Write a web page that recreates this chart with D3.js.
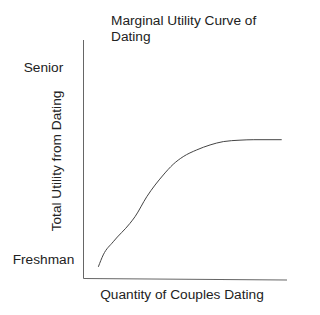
<!DOCTYPE html>
<html>
<head>
<meta charset="utf-8">
<script src="https://cdn.jsdelivr.net/npm/d3@7"></script>
<style>
  body { margin: 0; background: #fff; }
  text { font-family: "Liberation Sans", Arial, sans-serif; fill: #222; }
</style>
</head>
<body>
<svg id="chart" width="320" height="315"></svg>
<script>
// quantity of couples dating (0-10) vs total utility (0-10)
const quantity = [0.73, 0.97, 1.46, 2.28, 2.53, 3.11, 3.92, 4.41, 4.90, 5.56, 6.22, 6.87, 7.69, 8.37, 9.74]
const utility  = [0.49, 0.99, 1.54, 2.31, 2.59, 3.43, 4.34, 4.79, 5.11, 5.39, 5.60, 5.74, 5.80, 5.82, 5.82]
const yLabels = ['Freshman', 'Senior']
const yLabelValues = [0.82, 8.85]

const titleLines = ['Marginal Utility Curve of', 'Dating']
const xTitle = 'Quantity of Couples Dating'
const yTitle = 'Total Utility from Dating'

const svg = d3.select('#chart')
const x = d3.scaleLinear().domain([0, 10]).range([83.5, 287])
const y = d3.scaleLinear().domain([0, 10]).range([278.5, 40])

// axes drawn as plain lines, no ticks
svg.append('line')
    .attr('x1', x(0)).attr('x2', x(0))
    .attr('y1', y(0)).attr('y2', y(10))
    .style('stroke', '#666').style('stroke-width', 1)
svg.append('line')
    .attr('x1', x(0)).attr('x2', x(10))
    .attr('y1', y(0)).attr('y2', y(0) + 1.5)
    .style('stroke', '#666').style('stroke-width', 1.2)

const line = d3.line()
    .x(d => x(d[0]))
    .y(d => y(d[1]))
    .curve(d3.curveMonotoneX)

svg.append('path')
    .datum(d3.zip(quantity, utility))
    .attr('d', line)
    .style('fill', 'none')
    .style('stroke', '#444')
    .style('stroke-width', 1)

// category labels on the y axis
svg.selectAll('.ylab')
    .data(yLabels)
    .enter().append('text')
    .attr('class', 'ylab')
    .attr('x', 43.5)
    .attr('y', (d, i) => y(yLabelValues[i]))
    .attr('dy', '0.35em')
    .attr('text-anchor', 'middle')
    .style('font-size', '13.7px')
    .text(d => d)

svg.append('g')
    .selectAll('text')
    .data(titleLines)
    .enter().append('text')
    .attr('x', 111)
    .attr('y', (d, i) => 25 + i * 16)
    .style('font-size', '13.7px')
    .text(d => d)

svg.append('text')
    .attr('x', 182)
    .attr('y', 298.5)
    .attr('text-anchor', 'middle')
    .style('font-size', '13.7px')
    .text(xTitle)

svg.append('text')
    .attr('transform', 'translate(61,161) rotate(-90)')
    .attr('text-anchor', 'middle')
    .style('font-size', '13.7px')
    .text(yTitle)
</script>
</body>
</html>
